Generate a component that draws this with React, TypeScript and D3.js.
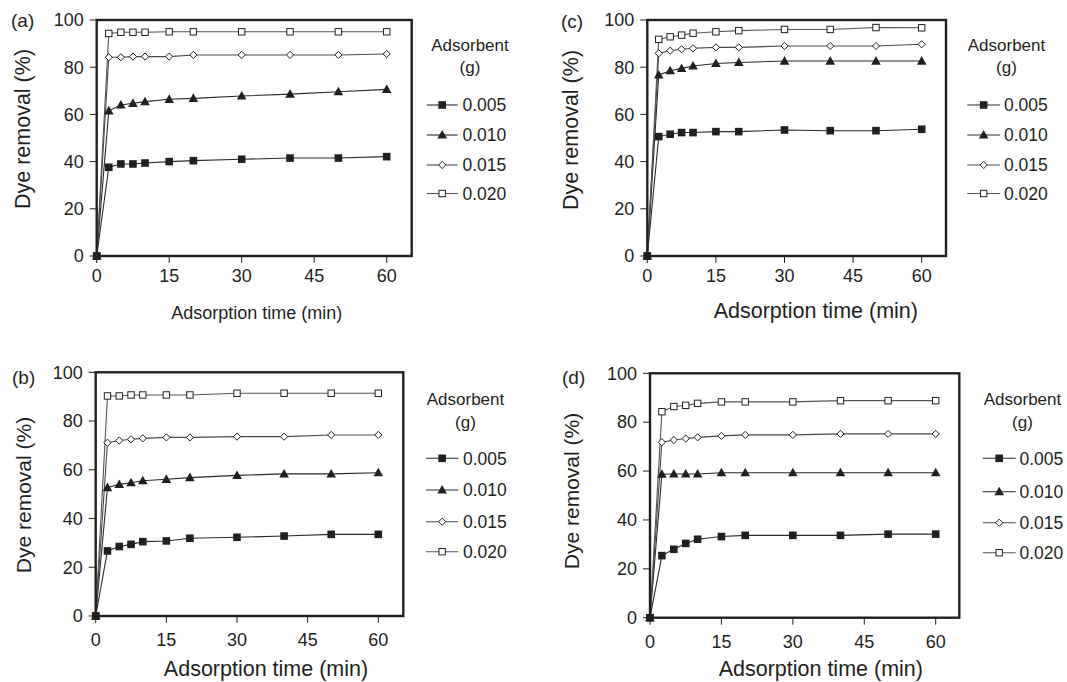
import React from "react";
import * as d3 from "d3";

// ---- data ----
const times = [0, 2.5, 5, 7.5, 10, 15, 20, 30, 40, 50, 60];
const doses = ["0.005", "0.010", "0.015", "0.020"];
const xTicks = [0, 15, 30, 45, 60];
const yTicks = [0, 20, 40, 60, 80, 100];

const panelA_005 = [0, 37.6, 39.0, 39.0, 39.4, 40.0, 40.4, 41.0, 41.5, 41.5, 42.1];
const panelA_010 = [0, 61.5, 64.0, 64.7, 65.4, 66.4, 66.8, 67.8, 68.6, 69.6, 70.6];
const panelA_015 = [0, 84.2, 84.2, 84.5, 84.5, 84.5, 85.2, 85.2, 85.2, 85.2, 85.6];
const panelA_020 = [0, 94.3, 94.8, 94.8, 94.8, 95.0, 95.0, 95.0, 95.0, 95.0, 95.0];

const panelB_005 = [0, 26.7, 28.5, 29.4, 30.5, 30.8, 31.9, 32.3, 32.8, 33.5, 33.5];
const panelB_010 = [0, 52.7, 54.0, 54.7, 55.5, 56.1, 56.8, 57.7, 58.3, 58.3, 58.8];
const panelB_015 = [0, 71.1, 72.0, 72.5, 72.9, 73.3, 73.3, 73.6, 73.6, 74.3, 74.3];
const panelB_020 = [0, 90.3, 90.3, 90.7, 90.7, 90.7, 90.7, 91.4, 91.4, 91.4, 91.4];

const panelC_005 = [0, 50.6, 51.6, 52.3, 52.3, 52.7, 52.7, 53.4, 53.1, 53.1, 53.7];
const panelC_010 = [0, 76.7, 78.5, 79.5, 80.5, 81.6, 82.0, 82.6, 82.6, 82.6, 82.6];
const panelC_015 = [0, 85.9, 87.0, 87.6, 88.0, 88.4, 88.4, 89.0, 89.0, 89.0, 89.7];
const panelC_020 = [0, 91.8, 92.9, 93.6, 94.4, 95.0, 95.5, 96.0, 96.0, 96.8, 96.7];

const panelD_005 = [0, 25.4, 28.0, 30.4, 32.1, 33.2, 33.7, 33.7, 33.7, 34.2, 34.2];
const panelD_010 = [0, 58.7, 58.8, 58.8, 58.8, 59.3, 59.3, 59.3, 59.3, 59.3, 59.3];
const panelD_015 = [0, 71.8, 72.7, 73.3, 73.8, 74.4, 74.8, 74.8, 75.2, 75.2, 75.2];
const panelD_020 = [0, 84.3, 86.4, 86.9, 87.7, 88.3, 88.3, 88.3, 88.8, 88.8, 88.8];

const xAxisTitle = "Adsorption time (min)";
const yAxisTitle = "Dye removal (%)";
const legendTitle1 = "Adsorbent";
const legendTitle2 = "(g)";

// ---- layout ----
type Layout = {
  tag: string;
  series: number[][];
  left: number; x60: number; right: number; top: number; bottom: number;
  tagX: number; tagY: number;
  xTitleX: number; xTitleY: number; xTitleSize: number;
  yTitleX: number; yTitleY: number; yTitleSize: number;
  tickLabelY: number;
  legX: number; legTitleY: number; legSubY: number; legRows: number[];
  legLine0: number; legLine1: number; legText: number;
};

const panels: Layout[] = [
  {
    tag: "(a)", series: [panelA_005, panelA_010, panelA_015, panelA_020],
    left: 96.7, x60: 386.7, right: 411.7, top: 20, bottom: 256,
    tagX: 11, tagY: 27, xTitleX: 256.7, xTitleY: 319, xTitleSize: 18,
    yTitleX: 30, yTitleY: 129, yTitleSize: 21.5, tickLabelY: 282,
    legX: 470, legTitleY: 51, legSubY: 73, legRows: [105, 135, 165, 193.5],
    legLine0: 426.7, legLine1: 457.7, legText: 462.5,
  },
  {
    tag: "(b)", series: [panelB_005, panelB_010, panelB_015, panelB_020],
    left: 95.7, x60: 378.3, right: 403.3, top: 372.3, bottom: 616,
    tagX: 12, tagY: 384, xTitleX: 266, xTitleY: 676, xTitleSize: 21.5,
    yTitleX: 31, yTitleY: 495, yTitleSize: 21, tickLabelY: 646,
    legX: 465.5, legTitleY: 405, legSubY: 428, legRows: [458.3, 490, 521.7, 551.7],
    legLine0: 426, legLine1: 458.3, legText: 463,
  },
  {
    tag: "(c)", series: [panelC_005, panelC_010, panelC_015, panelC_020],
    left: 647.3, x60: 921.7, right: 946, top: 20, bottom: 256,
    tagX: 561, tagY: 28, xTitleX: 815.8, xTitleY: 318, xTitleSize: 21.5,
    yTitleX: 578, yTitleY: 130, yTitleSize: 21.5, tickLabelY: 282,
    legX: 1006.5, legTitleY: 51, legSubY: 73, legRows: [105, 135, 165, 193.5],
    legLine0: 967.3, legLine1: 1000, legText: 1004,
  },
  {
    tag: "(d)", series: [panelD_005, panelD_010, panelD_015, panelD_020],
    left: 650, x60: 935.7, right: 959.3, top: 373.3, bottom: 617.7,
    tagX: 562, tagY: 384, xTitleX: 820.8, xTitleY: 676, xTitleSize: 21.5,
    yTitleX: 579, yTitleY: 491, yTitleSize: 21, tickLabelY: 648,
    legX: 1022.5, legTitleY: 405, legSubY: 428, legRows: [458.3, 491.7, 522.7, 552.7],
    legLine0: 982.7, legLine1: 1015.7, legText: 1019.5,
  },
];

const INK = "#231f20";
const lineColors = ["#2a2a2a", "#2a2a2a", "#4a4a4a", "#555555"];
const FONT = "'Liberation Sans', Arial, Helvetica, sans-serif";

function Marker({ kind, x, y }: { kind: number; x: number; y: number }) {
  if (kind === 0) {
    return <rect x={x - 3.8} y={y - 3.8} width={7.6} height={7.6} fill={INK} />;
  }
  if (kind === 1) {
    const p = d3.path();
    p.moveTo(x, y - 5);
    p.lineTo(x + 4.8, y + 3.6);
    p.lineTo(x - 4.8, y + 3.6);
    p.closePath();
    return <path d={p.toString()} fill={INK} />;
  }
  if (kind === 2) {
    const p = d3.path();
    p.moveTo(x, y - 3.6);
    p.lineTo(x + 3.6, y);
    p.lineTo(x, y + 3.6);
    p.lineTo(x - 3.6, y);
    p.closePath();
    return <path d={p.toString()} fill="#fff" stroke={INK} strokeWidth={1} />;
  }
  return <rect x={x - 3.2} y={y - 3.2} width={6.4} height={6.4} fill="#fff" stroke={INK} strokeWidth={1} />;
}

function Panel({ L }: { L: Layout }) {
  const x = d3.scaleLinear().domain([0, 60]).range([L.left, L.x60]);
  const y = d3.scaleLinear().domain([0, 100]).range([L.bottom, L.top]);
  const line = d3
    .line<number>()
    .x((_, i) => x(times[i]))
    .y((v) => y(v));
  return (
    <g fontFamily={FONT} fill={INK}>
      {yTicks.map((t) => (
        <g key={"y" + t}>
          <line x1={L.left - 7} x2={L.left} y1={y(t)} y2={y(t)} stroke={INK} strokeWidth={1} />
          <text x={L.left - 13} y={y(t)} dy="0.35em" textAnchor="end" fontSize={18}>
            {t}
          </text>
        </g>
      ))}
      {xTicks.map((t) => (
        <g key={"x" + t}>
          <line x1={x(t)} x2={x(t)} y1={L.bottom} y2={L.bottom + 7} stroke={INK} strokeWidth={1} />
          <text x={x(t)} y={L.tickLabelY} textAnchor="middle" fontSize={18}>
            {t}
          </text>
        </g>
      ))}
      {L.series.map((s, k) => (
        <path key={"l" + k} d={line(s) || ""} fill="none" stroke={lineColors[k]} strokeWidth={1.1} />
      ))}
      <rect
        x={L.left}
        y={L.top}
        width={L.right - L.left}
        height={L.bottom - L.top}
        fill="none"
        stroke={INK}
        strokeWidth={2.4}
      />
      {[3, 2, 1, 0].map((k) =>
        L.series[k].map((v, i) => <Marker key={k + "-" + i} kind={k} x={x(times[i])} y={y(v)} />)
      )}
      <text x={L.tagX} y={L.tagY} fontSize={19}>
        {L.tag}
      </text>
      <text x={L.xTitleX} y={L.xTitleY} textAnchor="middle" fontSize={L.xTitleSize}>
        {xAxisTitle}
      </text>
      <text
        transform={`translate(${L.yTitleX},${L.yTitleY}) rotate(-90)`}
        textAnchor="middle"
        fontSize={L.yTitleSize}
      >
        {yAxisTitle}
      </text>
      <text x={L.legX} y={L.legTitleY} textAnchor="middle" fontSize={17}>
        {legendTitle1}
      </text>
      <text x={L.legX} y={L.legSubY} textAnchor="middle" fontSize={17}>
        {legendTitle2}
      </text>
      {doses.map((dname, k) => {
        const ry = L.legRows[k];
        const cx = (L.legLine0 + L.legLine1) / 2;
        return (
          <g key={"lg" + k}>
            <line x1={L.legLine0} x2={L.legLine1} y1={ry} y2={ry} stroke={lineColors[k]} strokeWidth={1.1} />
            <Marker kind={k} x={cx} y={ry} />
            <text x={L.legText} y={ry} dy="0.36em" fontSize={17.5}>
              {dname}
            </text>
          </g>
        );
      })}
    </g>
  );
}

export default function App() {
  return (
    <svg
      width={1067}
      height={682}
      viewBox="0 0 1067 682"
      style={{ position: "absolute", left: 0, top: 0, background: "#fff" }}
    >
      <rect x={0} y={0} width={1067} height={682} fill="#fff" />
      {panels.map((L) => (
        <Panel key={L.tag} L={L} />
      ))}
    </svg>
  );
}
